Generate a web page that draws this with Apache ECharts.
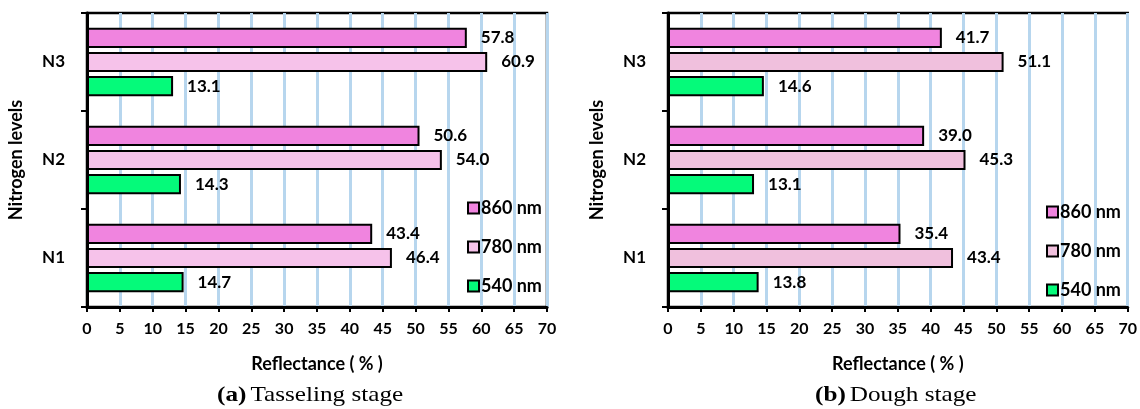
<!DOCTYPE html>
<html><head><meta charset="utf-8">
<script src="https://cdn.jsdelivr.net/npm/echarts@6/dist/echarts.min.js"></script>
<style>html,body{margin:0;padding:0;background:#fff}#c{width:1140px;height:409px}</style>
</head><body><div id="c"></div>
<script>
const categories = ['N1', 'N2', 'N3'];
const seriesNames = ['860 nm', '780 nm', '540 nm'];
const xTicks = [0, 5, 10, 15, 20, 25, 30, 35, 40, 45, 50, 55, 60, 65, 70];
// (a) Tasseling stage
const tassel860 = [43.4, 50.6, 57.8];
const tassel780 = [46.4, 54.0, 60.9];
const tassel540 = [14.7, 14.3, 13.1];
// (b) Dough stage
const dough860 = [35.4, 39.0, 41.7];
const dough780 = [43.4, 45.3, 51.1];
const dough540 = [13.8, 13.1, 14.6];

const FONT = 'Lato';
const colors = {
  a: ['#F084DF', '#F6C2EA', '#05FA7A'],
  b: ['#F084DF', '#F0C0DD', '#05FA7A']
};
const chart = echarts.init(document.getElementById('c'));

function xAxis(gi) {
  return {
    gridIndex: gi, type: 'value', min: xTicks[0], max: xTicks[xTicks.length - 1], interval: 5,
    axisLine: {show: true, onZero: false, lineStyle: {color: '#000', width: 3}},
    axisTick: {show: true, length: 5, lineStyle: {color: '#000', width: 2}},
    axisLabel: {color: '#000', fontFamily: FONT, fontWeight: 'bold', fontSize: 16, margin: 14},
    splitLine: {show: true, lineStyle: {color: '#B7D6EE', width: 3}},
    name: 'Reflectance ( % )', nameLocation: 'middle', nameGap: 48,
    nameTextStyle: {color: '#000', fontFamily: FONT, fontWeight: 'bold', fontSize: 18}
  };
}
function yAxis(gi) {
  return {
    gridIndex: gi, type: 'category', data: categories,
    axisLine: {show: true, lineStyle: {color: '#000', width: 3}},
    axisTick: {show: true, length: 6, lineStyle: {color: '#000', width: 2}},
    axisLabel: {color: '#000', fontFamily: FONT, fontWeight: 'bold', fontSize: 17, margin: 22},
    name: 'Nitrogen levels', nameLocation: 'middle', nameGap: 62, nameRotate: 90,
    nameTextStyle: {color: '#000', fontFamily: FONT, fontWeight: 'bold', fontSize: 18}
  };
}
function bar(gi, name, data, color) {
  return {
    type: 'bar', name: name, xAxisIndex: gi, yAxisIndex: gi, data: data,
    barCategoryGap: '30%', barGap: '20%',
    itemStyle: {color: color, borderColor: '#000', borderWidth: 2},
    label: {show: true, position: 'right', distance: 14, color: '#000', fontFamily: FONT,
      fontWeight: 'bold', fontSize: 17, formatter: p => p.value.toFixed(1)}
  };
}
function legend(names, left, top) {
  return {
    data: names, orient: 'vertical', left: left, top: top, icon: 'rect',
    itemWidth: 11, itemHeight: 11, itemGap: 21,
    textStyle: {color: '#000', fontFamily: FONT, fontWeight: 'bold', fontSize: 18, padding: [0, 0, 0, -3]},
    selectedMode: false
  };
}
const namesB = seriesNames.map(n => n + ' ');
const option = {
  backgroundColor: '#fff',
  animation: false,
  grid: [
    {left: 87, top: 13, width: 460, height: 294, show: true, borderColor: '#000', borderWidth: 2.5},
    {left: 668, top: 13, width: 461, height: 294, show: true, borderColor: '#000', borderWidth: 2.5}
  ],
  xAxis: [xAxis(0), xAxis(1)],
  yAxis: [yAxis(0), yAxis(1)],
  legend: [legend(seriesNames, 462, 194), legend(namesB, 1041, 198)],
  series: [
    bar(0, seriesNames[0], tassel860, colors.a[0]),
    bar(0, seriesNames[1], tassel780, colors.a[1]),
    bar(0, seriesNames[2], tassel540, colors.a[2]),
    bar(1, namesB[0], dough860, colors.b[0]),
    bar(1, namesB[1], dough780, colors.b[1]),
    bar(1, namesB[2], dough540, colors.b[2])
  ],
  graphic: [
    {type: 'text', left: 217, top: 385, scaleX: 1.2, style: {text: '{b|(a)} {r|Tasseling stage}',
      rich: {b: {fontFamily: 'Liberation Serif', fontWeight: 'bold', fontSize: 21, fill: '#000'},
             r: {fontFamily: 'Liberation Serif', fontSize: 21, fill: '#000'}}}},
    {type: 'text', left: 815, top: 385, scaleX: 1.2, style: {text: '{b|(b)} {r|Dough stage}',
      rich: {b: {fontFamily: 'Liberation Serif', fontWeight: 'bold', fontSize: 21, fill: '#000'},
             r: {fontFamily: 'Liberation Serif', fontSize: 21, fill: '#000'}}}}
  ]
};
chart.setOption(option);
</script></body></html>
